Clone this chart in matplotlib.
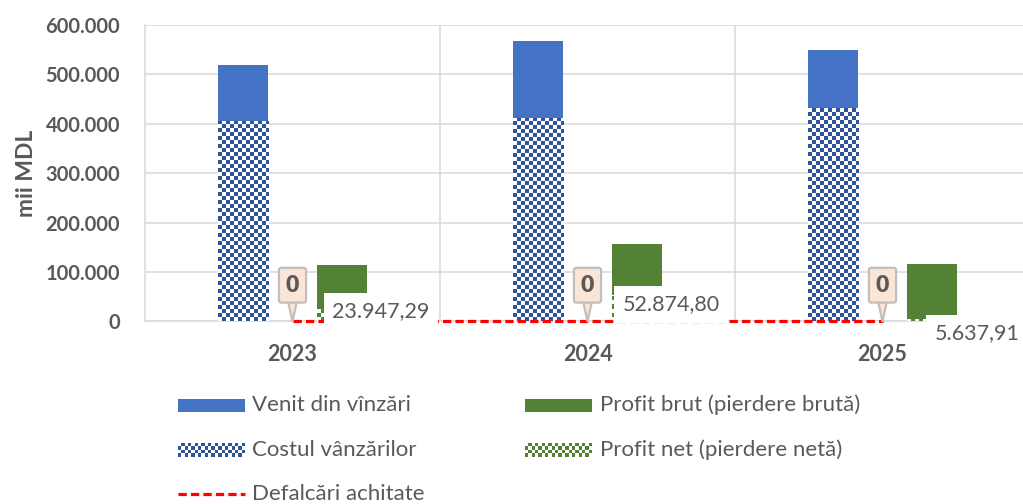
import numpy as np
import matplotlib
matplotlib.use("Agg")
import matplotlib.pyplot as plt
from matplotlib.colors import ListedColormap
from matplotlib.patches import Rectangle
from matplotlib.lines import Line2D
from matplotlib.ticker import FuncFormatter

# ---------------- data ----------------
years = ["2023", "2024", "2025"]
venit = [520000, 567000, 549000]          # Venit din vînzări
cost = [405000, 411000, 432000]           # Costul vânzărilor
profit_brut = [115000, 156000, 117000]    # Profit brut (pierdere brută)
profit_net = [23947.29, 52874.80, 5637.91]  # Profit net (pierdere netă)
defalcari = [0, 0, 0]                     # Defalcări achitate

labels = ["Venit din vînzări", "Costul vânzărilor", "Defalcări achitate",
          "Profit brut (pierdere brută)", "Profit net (pierdere netă)"]

# ---------------- style ----------------
plt.rcParams["font.family"] = ["Lato", "DejaVu Sans"]
GREY = "#595959"
GRID = "#D9D9D9"
BLUE = "#4472C4"
BLUE_D = "#2F5597"
GREEN = "#548235"
RED = "#FF0000"

W, H = 1023, 504
fig = plt.figure(figsize=(W / 100, H / 100), dpi=100)
ax = fig.add_axes([145 / W, (H - 321.3) / H, 885 / W, 296.3 / H])
ax.set_xlim(-0.5, 2.5)
ax.set_ylim(0, 600000)

x = np.arange(len(years))
bw = 0.172
off = 0.168

# gridlines
ax.set_yticks(np.arange(0, 600001, 100000))
ax.yaxis.grid(True, color=GRID, lw=1.1, zorder=0)
ax.set_axisbelow(True)
for xv in [0.5, 1.5, 2.5]:
    ax.axvline(xv, color=GRID, lw=1.1, zorder=0)
for s in ["top", "right"]:
    ax.spines[s].set_visible(False)
for s in ["left", "bottom"]:
    ax.spines[s].set_color(GRID)
    ax.spines[s].set_linewidth(1.1)


def checker_fill(patch, color, cell_px=4.0):
    inv = ax.transData.inverted()
    p0 = inv.transform((0, 0))
    p1 = inv.transform((cell_px, cell_px))
    cw, ch = p1[0] - p0[0], p1[1] - p0[1]
    x0, y0 = patch.get_x(), patch.get_y()
    w, h = patch.get_width(), patch.get_height()
    ncol = int(np.ceil(w / cw)) + 1
    nrow = max(int(np.ceil(h / ch)), 1) + 1
    arr = np.add.outer(np.arange(nrow), np.arange(ncol)) % 2
    im = ax.imshow(arr, cmap=ListedColormap(["white", color]),
                   extent=(x0, x0 + ncol * cw, y0, y0 + nrow * ch),
                   origin="lower", aspect="auto", interpolation="nearest",
                   zorder=3)
    im.set_clip_path(patch)


# bars
ax.bar(x - off, venit, bw, color=BLUE, zorder=2)
cbars = ax.bar(x - off, cost, bw, color="white", zorder=2.5)
for p in cbars:
    checker_fill(p, BLUE_D)
ax.bar(x + off, profit_brut, bw, color=GREEN, zorder=2)
nbars = ax.bar(x + off, profit_net, bw, color="white", zorder=2.5)
for p in nbars:
    checker_fill(p, GREEN)

ax.set_xlim(-0.5, 2.5)
ax.set_ylim(0, 600000)

# red dashed line
DASH = (0, (2.6, 1.3))
ax.plot(x, defalcari, color=RED, lw=2.3, linestyle=DASH, zorder=4,
        clip_on=False)


def fmt_ro(v):
    s = f"{v:,.2f}"
    return s.replace(",", "X").replace(".", ",").replace("X", ".")


# net profit labels (custom Excel positions)
lab_pos = [(0.30, 20000), (0.283, 34500), (0.32, -24500)]
for i, v in enumerate(profit_net):
    dx, yy = lab_pos[i]
    ax.text(x[i] + dx, yy, fmt_ro(v), ha="center", va="center",
            fontsize=15.5, color=GREY, zorder=5, clip_on=False,
            bbox=dict(boxstyle="square,pad=0.4", fc="white", ec="none"))

# callouts for Defalcări
for i, v in enumerate(defalcari):
    ax.annotate(f"{v:d}", xy=(x[i], v), xytext=(0, 26),
                textcoords="offset points", ha="center", va="center",
                fontsize=16.5, fontweight="heavy", color=GREY, zorder=6,
                annotation_clip=False,
                bbox=dict(boxstyle="round,pad=0.3,rounding_size=0.1",
                          fc="#FBE5D6", ec="#BFBFBF", lw=1.6),
                arrowprops=dict(arrowstyle="wedge,tail_width=0.7,shrink_factor=0.5",
                                fc="#FBE5D6", ec="#BFBFBF", lw=1.6,
                                shrinkA=0, shrinkB=0, patchA=None,
                                relpos=(0.5, 0.5)))

# axes ticks / labels
ax.yaxis.set_major_formatter(FuncFormatter(lambda v, p: f"{int(v):,}".replace(",", ".")))
ax.set_xticks(x)
ax.set_xticklabels(years)
ax.tick_params(axis="y", length=0, pad=18, labelsize=14.5, labelcolor=GREY)
ax.tick_params(axis="x", length=0, pad=16, labelsize=15.5, labelcolor=GREY)
for t in ax.get_yticklabels() + ax.get_xticklabels():
    t.set_fontweight("bold")
ax.set_ylabel("mii MDL", fontsize=16.5, fontweight="bold", color=GREY)
ax.yaxis.set_label_coords(-0.122, 0.5)

# ---------------- legend (manual) ----------------
def fx(px):
    return px / W


def fy(py):
    return 1 - py / H


rows = [405, 450, 494]
cols = [(178, 245, 252), (525, 592, 600)]
entries = [  # (col, row, kind, color)
    (0, 0, "solid", BLUE), (0, 1, "checker", BLUE_D), (0, 2, "line", RED),
    (1, 0, "solid", GREEN), (1, 1, "checker", GREEN),
]
for (c, r, kind, color), lab in zip(entries, labels):
    hx0, hx1, tx = cols[c]
    yc = rows[r]
    if kind == "solid":
        fig.add_artist(Rectangle((fx(hx0), fy(yc + 6.5)), fx(hx1 - hx0), 13 / H,
                                 transform=fig.transFigure, fc=color, ec="none"))
    elif kind == "checker":
        lax = fig.add_axes([fx(hx0), fy(yc + 7), fx(hx1 - hx0), 14 / H])
        lax.axis("off")
        ncol, nrow = 20, 4
        arr = np.add.outer(np.arange(nrow), np.arange(ncol)) % 2
        lax.imshow(arr, cmap=ListedColormap(["white", color]), aspect="auto",
                   interpolation="nearest", extent=(0, 1, 0, 1))
    else:
        fig.add_artist(Line2D([fx(hx0), fx(hx1)], [fy(yc), fy(yc)],
                              transform=fig.transFigure, color=color, lw=2.3,
                              linestyle=DASH))
    fig.text(fx(tx), fy(yc), lab, ha="left", va="center", fontsize=16,
             color=GREY)

fig.savefig("out.png", dpi=100)
